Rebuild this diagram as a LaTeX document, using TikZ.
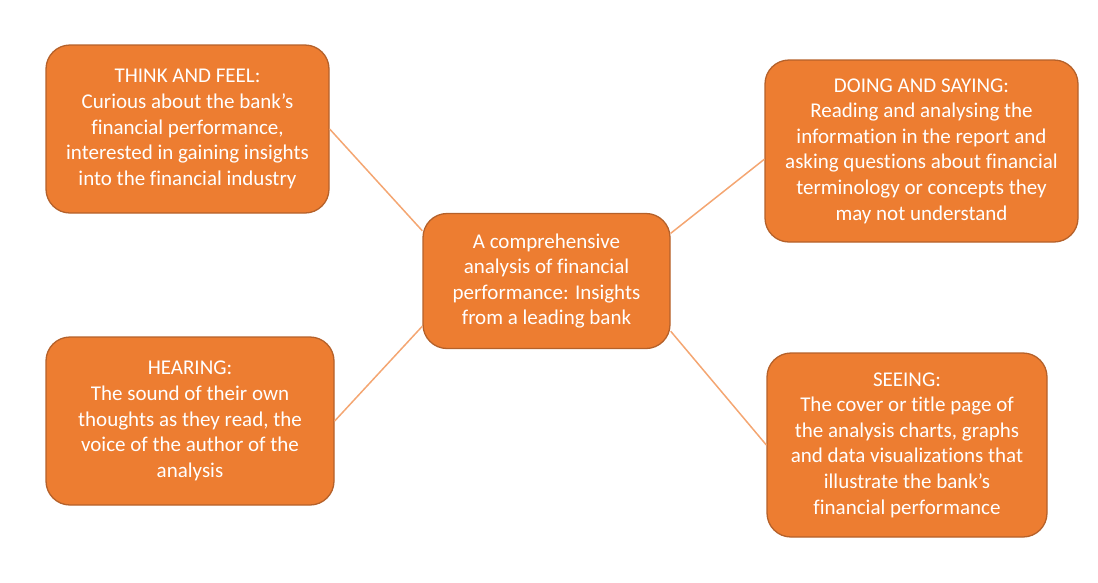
\documentclass[tikz,border=0pt]{standalone}
\usepackage{fontspec}
\setmainfont[Ligatures=CommonOff]{Carlito}
\definecolor{boxfill}{HTML}{ED7D31}
\definecolor{boxline}{HTML}{B5612A}
\definecolor{linkline}{HTML}{F4A672}
\begin{document}
\begin{tikzpicture}[x=1pt,y=-1pt,
  card/.style={draw=boxline, line width=1.3pt, fill=boxfill, rounded corners=24pt,
    text=white, align=center, inner sep=0pt,
    font=\fontsize{21}{25.6}\selectfont},
  link/.style={draw=linkline, line width=1.5pt}]
\useasboundingbox (0,0) rectangle (1098,582);
\node[card, minimum width=283pt, minimum height=168pt] (tf) at (187.5,129)
  {THINK AND FEEL:\\Curious about the bank’s\\financial performance,\\interested in gaining insights\\into the financial industry};
\node[card, minimum width=247pt, minimum height=135pt] (c) at (546.5,281)
  {A comprehensive\\analysis of financial\\performance: Insights\\from a leading bank};
\node[card, minimum width=313pt, minimum height=182pt] (ds) at (921.5,151)
  {DOING AND SAYING:\\Reading and analysing the\\information in the report and\\asking questions about financial\\terminology or concepts they\\may not understand};
\node[card, minimum width=288pt, minimum height=168pt] (h) at (190,421)
  {HEARING:\\The sound of their own\\thoughts as they read, the\\voice of the author of the\\analysis};
\node[card, minimum width=280pt, minimum height=184pt] (s) at (907,445)
  {SEEING:\\The cover or title page of\\the analysis charts, graphs\\and data visualizations that\\illustrate the bank’s\\financial performance};
\draw[link] (tf.east) -- (c.158);
\draw[link] (ds.183) -- (c.21);
\draw[link] (h.east) -- (c.200);
\draw[link] (s.west) -- (c.-22.5);
\end{tikzpicture}
\end{document}
